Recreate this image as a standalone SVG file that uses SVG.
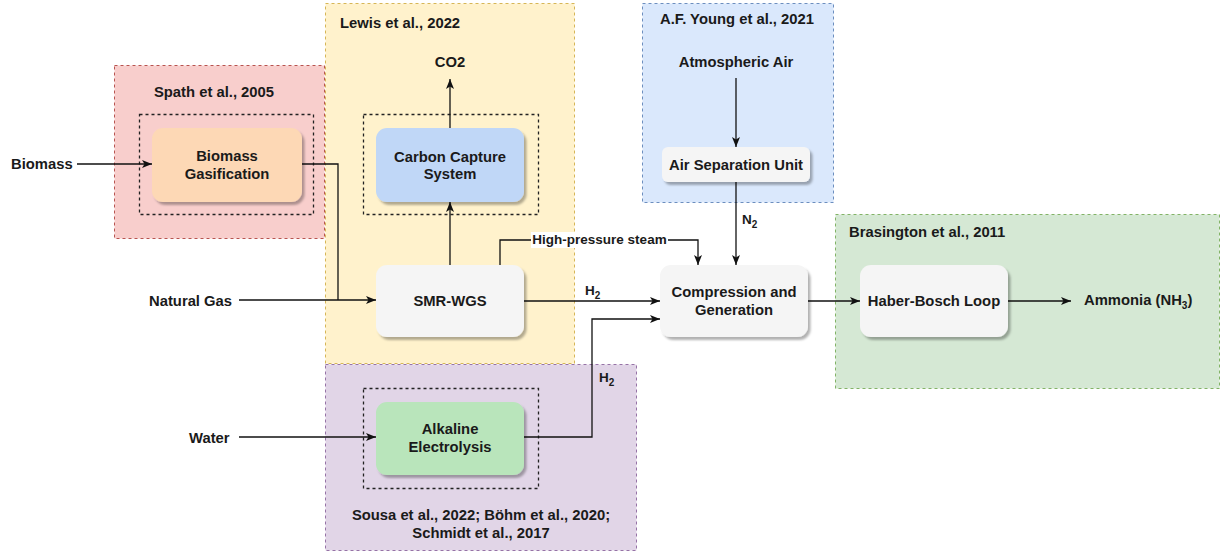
<svg xmlns="http://www.w3.org/2000/svg" width="1221" height="552" viewBox="0 0 1221 552">
<style>
text{font-family:"Liberation Sans",Arial,sans-serif;font-weight:bold;fill:#1a1a1a;font-size:14.8px}
.c{text-anchor:middle}
.s{font-size:13.5px}
.grp{stroke-width:1;stroke-dasharray:3 3}
.inner{fill:none;stroke:#222;stroke-width:1.3;stroke-dasharray:3 3}
.node{stroke:none;filter:url(#sh)}
.edge{fill:none;stroke:#111;stroke-width:1.3}
</style>
<defs>
<filter id="sh" x="-10%" y="-10%" width="130%" height="140%">
<feDropShadow dx="2.5" dy="3" stdDeviation="0.8" flood-color="#000" flood-opacity="0.3"/>
</filter>
<marker id="ar" viewBox="0 0 10 8" refX="10" refY="4" markerWidth="10" markerHeight="8" markerUnits="userSpaceOnUse" orient="auto">
<path d="M0,0 L10,4 L0,8 L2.5,4 z" fill="#111"/>
</marker>
</defs>
<rect width="1221" height="552" fill="#ffffff"/>

<g id="group-lewis">
<rect class="grp" x="325.5" y="3.5" width="249" height="360" fill="#fff2cc" stroke="#d6b656"/>
<text x="340" y="28">Lewis et al., 2022</text>
<text class="c" x="450" y="67">CO2</text>
</g>
<g id="group-spath">
<rect class="grp" x="114.5" y="65.5" width="210" height="173" fill="#f8cecc" stroke="#b85450"/>
<text class="c" x="214" y="97">Spath et al., 2005</text>
</g>
<g id="group-young">
<rect class="grp" x="642.5" y="3.5" width="191" height="199" fill="#dae8fc" stroke="#6c8ebf"/>
<text class="c" x="737" y="24">A.F. Young et al., 2021</text>
<text class="c" x="736" y="67">Atmospheric Air</text>
</g>
<g id="group-sousa">
<rect class="grp" x="325.5" y="364.5" width="311" height="186" fill="#e1d5e7" stroke="#9673a6"/>
<text class="c" x="481" y="520">Sousa et al., 2022; Böhm et al., 2020;</text>
<text class="c" x="481" y="538">Schmidt et al., 2017</text>
</g>
<g id="group-brasington">
<rect class="grp" x="835.5" y="214.5" width="384" height="174" fill="#d5e8d4" stroke="#82b366"/>
<text x="849" y="237">Brasington et al., 2011</text>
<text x="1084" y="305">Ammonia (NH<tspan font-size="10" dy="4">3</tspan><tspan dy="-4">)</tspan></text>
</g>

<rect class="inner" x="139.5" y="114.5" width="174" height="100"/>
<rect class="inner" x="363.5" y="114.5" width="175" height="100"/>
<rect class="inner" x="363.5" y="388.5" width="175" height="100"/>

<g id="connectors">
<path class="edge" d="M77,164 H152" marker-end="url(#ar)"/>
<path class="edge" d="M302,164 H338 V300"/>
<path class="edge" d="M239,300 H376" marker-end="url(#ar)"/>
<path class="edge" d="M450,265 V202" marker-end="url(#ar)"/>
<path class="edge" d="M450,128 V79" marker-end="url(#ar)"/>
<path class="edge" d="M500,265 V240 H698 V265" marker-end="url(#ar)"/>
<rect x="531" y="232" width="137" height="16" fill="#ffffff"/>
<text class="c s" x="599.5" y="244">High-pressure steam</text>
<path class="edge" d="M524,301 H660" marker-end="url(#ar)"/>
<text class="s" x="585" y="295">H<tspan font-size="10" dy="4">2</tspan></text>
<path class="edge" d="M239,437 H376" marker-end="url(#ar)"/>
<path class="edge" d="M524,437 H592 V319 H660" marker-end="url(#ar)"/>
<text class="s" x="599" y="382">H<tspan font-size="10" dy="4">2</tspan></text>
<path class="edge" d="M736,78 V147" marker-end="url(#ar)"/>
<path class="edge" d="M736,182 V265" marker-end="url(#ar)"/>
<text class="s" x="742" y="224">N<tspan font-size="10" dy="4">2</tspan></text>
<path class="edge" d="M808,301 H860" marker-end="url(#ar)"/>
<path class="edge" d="M1008,301 H1071" marker-end="url(#ar)"/>
</g>

<g id="biomass">
<text x="11" y="169">Biomass</text>
</g>
<g id="natural-gas">
<text x="149" y="306">Natural Gas</text>
</g>
<g id="water">
<text x="189" y="443">Water</text>
</g>

<g id="biomass-gasification">
<rect class="node" x="152" y="128" width="150" height="74" rx="11" fill="#fdd8b5"/>
<text class="c" x="227" y="161">Biomass</text>
<text class="c" x="227" y="179">Gasification</text>
</g>
<g id="carbon-capture">
<rect class="node" x="376" y="128" width="148" height="74" rx="11" fill="#c0d7f7"/>
<text class="c" x="450" y="162">Carbon Capture</text>
<text class="c" x="450" y="179">System</text>
</g>
<g id="smr-wgs">
<rect class="node" x="376" y="265" width="148" height="72" rx="11" fill="#f5f5f5"/>
<text class="c" x="450" y="306">SMR-WGS</text>
</g>
<g id="alkaline-electrolysis">
<rect class="node" x="376" y="402" width="148" height="73" rx="11" fill="#b9e5bb"/>
<text class="c" x="450" y="434">Alkaline</text>
<text class="c" x="450" y="452">Electrolysis</text>
</g>
<g id="air-separation-unit">
<rect class="node" x="662" y="147" width="148" height="35" rx="6" fill="#f5f5f5"/>
<text class="c" x="736" y="170">Air Separation Unit</text>
</g>
<g id="compression">
<rect class="node" x="660" y="265" width="148" height="72" rx="11" fill="#f5f5f5"/>
<text class="c" x="734" y="297">Compression and</text>
<text class="c" x="734" y="315">Generation</text>
</g>
<g id="haber-bosch">
<rect class="node" x="860" y="265" width="148" height="72" rx="11" fill="#f5f5f5"/>
<text class="c" x="934" y="306">Haber-Bosch Loop</text>
</g>
</svg>
